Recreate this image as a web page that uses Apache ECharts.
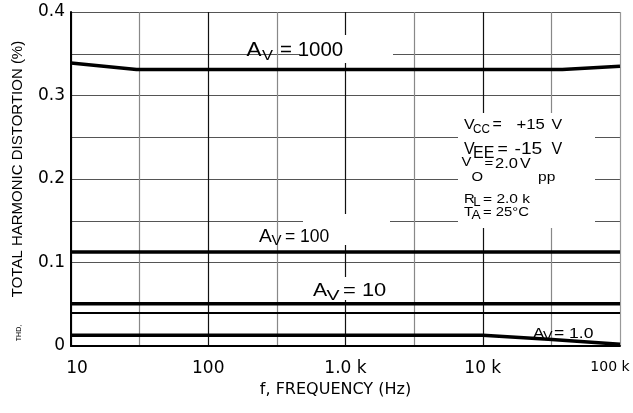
<!DOCTYPE html>
<html>
<head>
<meta charset="utf-8">
<script src="https://cdn.jsdelivr.net/npm/echarts@6/dist/echarts.min.js"></script>
<style>
html,body{margin:0;padding:0;background:#fff;}
#chart{width:633px;height:413px;}
</style>
</head>
<body>
<div id="chart"></div>
<script>
// ---- data (frequency in Hz, THD in %) ----
const freqAv1000 = [10, 30, 38000, 100000];
const thdAv1000  = [0.339, 0.331, 0.331, 0.335];
const freqAv100  = [10, 100000];
const thdAv100   = [0.1125, 0.1125];
const freqAv10   = [10, 100000];
const thdAv10    = [0.0505, 0.0505];
const freqThin   = [10, 100000];
const thdThin    = [0.0395, 0.0395];
const freqAv1    = [10, 10000, 30000, 100000];
const thdAv1     = [0.013, 0.013, 0.008, 0.0022];
const xTickLabels = ['10', '100', '1.0 k', '10 k', '100 k'];
const yTickLabels = ['0', '0.1', '0.2', '0.3', '0.4'];

function pairs(f, v){ return f.map((x,i)=>[Math.log10(x), v[i]]); }

const FONT = '"Liberation Sans", Arial, sans-serif';
const AXFONT = '"DejaVu Sans", sans-serif';

// annotation layout: [text, x, yMiddle, size, scaleX]
const notes = [
  ['A', 246.5, 50.7, 19.5, 1.15], ['V', 262, 56, 15, 1.1], ['= 1000', 280, 50.7, 19.5, 1.05],
  ['A', 259, 237.3, 17.5, 1.1], ['V', 271.5, 241.3, 15, 1.0], ['= 100', 285, 237.3, 17.5, 1.0],
  ['A', 313, 291.2, 17.7, 1.2], ['V', 326.5, 296, 15, 1.3], ['= 10', 343, 291.2, 17.7, 1.24],
  ['A', 533, 334, 14, 1.2], ['V', 543, 336, 13, 1.1], ['= 1.0', 554, 334, 14, 1.25],
  ['V', 464, 124.8, 14.5, 1.1], ['CC', 473, 129.3, 13, 0.9], ['=', 492.5, 124.5, 14.5, 1.1], ['+15', 516.5, 124.5, 14.5, 1.15], ['V', 551.5, 124.5, 14.5, 1.1],
  ['V', 464, 150, 16, 1.0], ['EE', 473, 153.3, 16, 1.0], ['=', 497.5, 150, 16, 1.1], ['-15', 514.5, 150, 16, 1.2], ['V', 551.5, 150, 16, 1.0],
  ['V', 461.5, 162.5, 13.5, 1.1], ['O', 471.5, 177.5, 13.5, 1.1], ['=', 484.5, 163.7, 13.5, 1.1], ['2.0', 495, 163.7, 15, 1.1], ['V', 520, 163.7, 14.5, 1.1], ['pp', 538, 177.3, 13.5, 1.15],
  ['R', 464, 199.1, 13.5, 1.1], ['L', 473.3, 202.3, 12, 1.1], ['= 2.0 k', 483, 199.1, 13.5, 1.15],
  ['T', 464, 211.8, 13.5, 1.1], ['A', 471.5, 215.3, 12.5, 1.1], ['= 25°C', 483, 211.8, 13.5, 1.1]
];
const boxes = [
  [458, 113, 137, 115],
  [300, 35, 93, 28],
  [303, 214, 87, 31],
  [300, 277, 105, 23]
];

const graphics = [];
boxes.forEach(b => graphics.push({type:'rect', z: 1, silent:true,
  shape:{x:b[0], y:b[1], width:b[2], height:b[3]}, style:{fill:'#fff'}}));
notes.forEach(n => graphics.push({type:'text', z: 10, x: n[1], y: n[2], scaleX: n[4],
  style:{text:n[0], font: n[3] + 'px ' + FONT, fill:'#000', align:'left', verticalAlign:'middle'}}));
graphics.push({type:'text', z:10, x:19, y:333, rotation: Math.PI/2,
  style:{text:'THD,', font:'7px ' + FONT, fill:'#000', align:'center', verticalAlign:'middle'}});

function line(name, f, v, w){
  return {name, type:'line', data: pairs(f, v), symbol:'none', z: 5,
    lineStyle:{color:'#000', width: w}, itemStyle:{color:'#000'}, animation:false};
}

const chart = echarts.init(document.getElementById('chart'));
chart.setOption({
  animation: false,
  backgroundColor: '#fff',
  grid: {left: 71, right: 13, top: 12, bottom: 67},
  xAxis: {
    type: 'value', min: 1, max: 5, interval: 0.5,
    name: 'f, FREQUENCY (Hz)', nameLocation: 'middle', nameGap: 32,
    nameTextStyle: {fontFamily: AXFONT, fontSize: 16, color:'#000', padding:[0,20,0,0]},
    axisLine: {show: true, lineStyle: {color:'#000', width: 2}},
    axisTick: {show: false},
    axisLabel: {
      margin: 14, color:'#000', fontFamily: AXFONT, fontSize: 17,
      formatter: function(v){
        if (Math.abs(v - Math.round(v)) > 1e-6) return '';
        const i = Math.round(v) - 1;
        if (i === 0) return '{a|' + xTickLabels[i] + '}';
        if (i === 4) return '{b|' + xTickLabels[i] + '}';
        return xTickLabels[i];
      },
      rich: {
        a: {fontFamily: AXFONT, fontSize: 17, color:'#000', padding:[0,0,0,12]},
        b: {fontFamily: AXFONT, fontSize: 14, color:'#000', padding:[0,20,0,0]}
      }
    },
    splitLine: {show: true, lineStyle: {width: 1.2,
      color: ['#111','#888','#111','#888','#111','#888','#111','#888','#999']}}
  },
  yAxis: {
    type: 'value', min: 0, max: 0.4, interval: 0.05,
    name: 'TOTAL HARMONIC DISTORTION (%)', nameLocation: 'middle', nameRotate: 90, nameGap: 46,
    nameTextStyle: {fontFamily: FONT, fontSize: 15, color:'#000', padding:[0,0,0,20]},
    axisLine: {show: true, lineStyle: {color:'#000', width: 2}},
    axisTick: {show: false},
    axisLabel: {
      margin: 6, color:'#000', fontFamily: AXFONT, fontSize: 17,
      formatter: function(v){
        const k = Math.round(v * 20);
        return k % 2 === 0 ? yTickLabels[k/2] : '';
      }
    },
    splitLine: {show: true, lineStyle: {color:'#555', width: 1.2}}
  },
  series: [
    line('AV = 1000', freqAv1000, thdAv1000, 3.5),
    line('AV = 100', freqAv100, thdAv100, 3.5),
    line('AV = 10', freqAv10, thdAv10, 3.5),
    line('thin', freqThin, thdThin, 1.8),
    line('AV = 1.0', freqAv1, thdAv1, 3.5)
  ],
  graphic: {elements: graphics}
});
</script>
</body>
</html>
